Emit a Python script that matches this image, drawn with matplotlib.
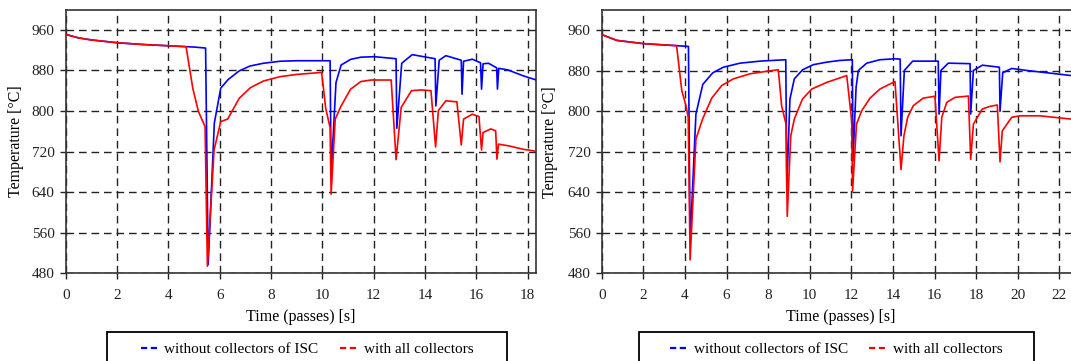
import matplotlib
matplotlib.use("Agg")
import matplotlib.pyplot as plt
from matplotlib.lines import Line2D
from matplotlib.patches import Rectangle

# ---------------- data ----------------
left_blue_t = [0, 0.5, 1, 2, 3, 4, 5, 5.45, 5.55, 5.79, 6.04, 6.33, 6.76, 7.18, 7.7, 8.35, 9.0,
               10.3, 10.34, 10.53, 10.73, 11.1, 11.5, 12.02, 12.87, 12.9, 13.09, 13.5, 14.39,
               14.42, 14.55, 14.81, 15.41, 15.44, 15.5, 15.84, 16.16, 16.2, 16.26, 16.47, 16.79,
               16.82, 16.87, 17.22, 17.81, 18.46]
left_blue_T = [951, 944, 940, 934.5, 931, 928.5, 926, 924, 497, 776, 845, 862, 879, 888.6, 894, 898, 899,
               899, 674, 856, 890.6, 901.7, 906, 907, 903, 766, 894, 911, 903,
               810, 900, 909, 900, 833, 898, 902, 895, 843, 893, 894, 885,
               843, 884, 881, 869.5, 859]

left_red_t = [0, 0.5, 1, 2, 3, 4, 4.69, 4.95, 5.17, 5.43, 5.52, 5.78, 6.04, 6.31, 6.76, 7.2, 7.7,
              8.35, 9.0, 9.97, 10.13, 10.3, 10.34, 10.5, 10.73, 11.1, 11.5, 11.89, 12.68, 12.87,
              13.07, 13.47, 13.86, 14.23, 14.41, 14.52, 14.81, 15.24, 15.41, 15.5, 15.84, 16.1,
              16.2, 16.26, 16.56, 16.75, 16.8, 16.86, 17.28, 17.81, 18.4]
left_red_T = [951, 944, 940, 934.5, 931, 928.5, 926.6, 845, 799, 769, 494, 723, 779, 784, 825, 846, 859,
              867.6, 872, 876, 805, 767, 636, 784, 810, 843, 858, 861, 861, 704,
              807, 840, 841.4, 840, 729, 801, 820, 818, 733, 784, 793.6, 789,
              723, 757.5, 764.6, 761, 705, 734.6, 731, 724.6, 720]

right_blue_t = [0, 0.72, 2, 3, 3.6, 4.17, 4.25, 4.53, 4.86, 5.34, 5.85, 6.65, 7.61, 8.85, 8.9, 9.05,
                9.26, 9.66, 10.17, 10.82, 11.46, 12.05, 12.08, 12.23, 12.34, 12.74, 13.38, 14.1,
                14.35, 14.39, 14.55, 14.95, 16.18, 16.22, 16.31, 16.66, 17.71, 17.74, 17.87, 18.3,
                19.12, 19.15, 19.28, 19.71, 20.43, 22.56, 23]
right_blue_T = [951.5, 940, 933.6, 931, 929.6, 928, 540, 794.5, 853, 876, 887, 895, 899, 901.8, 650, 824,
                864, 882, 892, 897, 900.4, 901.8, 702, 847.4, 880.6, 895, 901.8, 903.7,
                903, 751.5, 880.6, 899, 899, 794.5, 880.6, 895, 894, 794.5, 880.6, 891,
                887, 800, 876, 884.5, 880.6, 870.6, 868.5]

right_red_t = [0, 0.72, 2, 3, 3.6, 3.85, 4.05, 4.16, 4.25, 4.53, 4.85, 5.29, 5.77, 6.33, 7.13, 7.93,
               8.49, 8.65, 8.86, 8.92, 9.09, 9.26, 9.65, 10.1, 10.82, 11.46, 11.78, 12.02, 12.06,
               12.25, 12.5, 12.9, 13.38, 14.1, 14.39, 14.53, 14.71, 14.98, 15.46, 16.02, 16.22,
               16.35, 16.59, 16.99, 17.63, 17.74, 17.87, 18.3, 18.67, 19.02, 19.15, 19.26, 19.71,
               20.11, 21.07, 22.56, 23]
right_red_T = [951.5, 940, 933.6, 931, 929.6, 841, 811, 788, 506.5, 745, 784.6, 826, 850.8, 864, 874, 879,
               882, 811, 774.7, 592.6, 751.5, 784.6, 824, 844, 857, 866, 870.6, 781, 642,
               774.7, 801, 826, 844, 858.7, 685, 751.5, 788, 811, 826, 829.6, 702,
               788, 817.6, 827.5, 830, 705, 774.7, 804.5, 809.7, 812.4, 700, 761.4, 788,
               791, 791, 784.6, 783]

y_ticks = [480, 560, 640, 720, 800, 880, 960]
left_x_ticks = [0, 2, 4, 6, 8, 10, 12, 14, 16, 18]
right_x_ticks = [0, 2, 4, 6, 8, 10, 12, 14, 16, 18, 20, 22]
series_labels = ["without collectors of ISC", "with all collectors"]
series_colors = ["#0000ff", "#ff0000"]

# ---------------- figure ----------------
plt.rcParams['font.family'] = ['Liberation Serif', 'DejaVu Serif']
W, H = 1071, 361
fig = plt.figure(figsize=(W / 100, H / 100), dpi=100)

def px_axes(x0, x1, ytop, ybot):
    return fig.add_axes([x0 / W, (H - ybot) / H, (x1 - x0) / W, (ybot - ytop) / H])

ax1 = px_axes(65.7, 535.7, 9.5, 273.3)
ax2 = px_axes(601.7, 601.7 + 23 * 20.8, 10.0, 273.3)

panels = [
    (ax1, left_blue_t, left_blue_T, left_red_t, left_red_T, left_x_ticks, 18.31, (107, 507), 65.7, 24.0),
    (ax2, right_blue_t, right_blue_T, right_red_t, right_red_T, right_x_ticks, 23, (639, 1034), 601.7, 558.0),
]

for ax, bt, bT, rt, rT, xt, xmax, (lx0, lx1), axx0, ylab_x in panels:
    ax.plot(bt, bT, color=series_colors[0], lw=1.2, zorder=3)
    ax.plot(rt, rT, color=series_colors[1], lw=1.2, zorder=4)
    ax.set_xlim(0, xmax)
    ax.set_ylim(480, 1000)
    ax.set_xticks(xt)
    ax.set_yticks(y_ticks)
    ax.grid(True, color='#222222', lw=1.0, linestyle=(0, (5.5, 3.5)))
    ax.set_axisbelow(True)
    for s in ax.spines.values():
        s.set_color('#333333')
        s.set_linewidth(1.2)
    ax.tick_params(direction='out', length=4, width=1, labelsize=11, pad=5, colors='#222222')
    ax.tick_params(axis='x', pad=7)
    ax.tick_params(axis='y', pad=4)
    ax.set_xlabel("Time (passes) [s]", fontsize=11.5, labelpad=5)
    ax.set_ylabel("Temperature [°C]", fontsize=11.5)
    w_px = ax.get_position().width * W
    ax.yaxis.set_label_coords(-(axx0 - ylab_x) / w_px, 0.5)

    # legend (entries centred inside a fixed box)
    handles = [Line2D([], [], color=c, lw=1.6, dashes=(2.8, 1.6)) for c in series_colors]
    cx = (lx0 + lx1) / 2 / W
    leg = ax.legend(handles, series_labels, loc='center', ncol=2,
                    bbox_to_anchor=(cx, (H - 349) / H), bbox_transform=fig.transFigure,
                    fontsize=11, frameon=False, handlelength=1.15, handletextpad=0.4,
                    columnspacing=1.4, borderpad=0, borderaxespad=0)
    fig.patches.append(Rectangle((lx0 / W, -0.05), (lx1 - lx0) / W, 0.05 + (H - 332) / H,
                                 transform=fig.transFigure, fill=False, edgecolor='black',
                                 lw=1.3, zorder=5))

fig.savefig("out.png", dpi=100)
